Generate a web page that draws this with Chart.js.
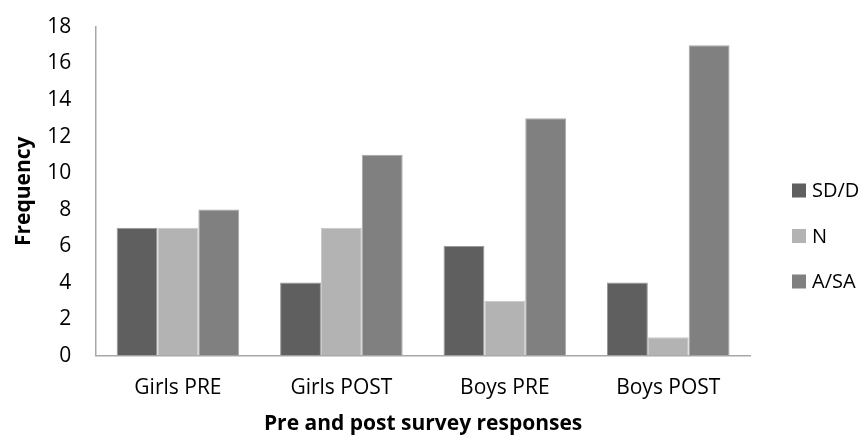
<!DOCTYPE html>
<html>
<head>
<meta charset="utf-8">
<script src="https://cdn.jsdelivr.net/npm/chart.js@4"></script>
<style>
  html, body { margin: 0; padding: 0; background: #fff; }
  #wrap { width: 865px; height: 437px; }
</style>
</head>
<body>
<div id="wrap"><canvas id="c" width="865" height="437"></canvas></div>
<script>
// Survey response groups
const categories = ["Girls PRE", "Girls POST", "Boys PRE", "Boys POST"];
// Response frequencies per group
const sdD = [7, 4, 6, 4];
const neutral = [7, 7, 3, 1];
const aSa = [8, 11, 13, 17];
const yTicks = [0, 2, 4, 6, 8, 10, 12, 14, 16, 18];

const FONT = "'Open Sans', sans-serif";

// Legend drawn in the right margin: square swatch + label per dataset
const sideLegend = {
  id: "sideLegend",
  afterDraw(chart) {
    const ctx = chart.ctx;
    const ds = chart.data.datasets;
    const step = 45.5;
    const midY = 236;
    const boxX = 792, box = 14, textX = 812;
    ctx.save();
    ctx.font = "20px " + FONT;
    ctx.textBaseline = "middle";
    ctx.textAlign = "left";
    ds.forEach((d, i) => {
      const y = midY + (i - (ds.length - 1) / 2) * step;
      ctx.fillStyle = d.backgroundColor;
      ctx.fillRect(boxX, y - box / 2, box, box);
      ctx.fillStyle = "#000";
      ctx.fillText(d.label, textX, y + 1);
    });
    ctx.restore();
  }
};

new Chart(document.getElementById("c"), {
  type: "bar",
  data: {
    labels: categories,
    datasets: [
      { label: "SD/D", data: sdD, backgroundColor: "#5f5f5f", borderColor: "#9a9a9a", borderWidth: 1 },
      { label: "N", data: neutral, backgroundColor: "#b3b3b3", borderColor: "#c8c8c8", borderWidth: 1 },
      { label: "A/SA", data: aSa, backgroundColor: "#808080", borderColor: "#a8a8a8", borderWidth: 1 }
    ]
  },
  options: {
    responsive: false,
    animation: false,
    layout: { padding: { top: 27, right: 115, left: 11, bottom: 0 } },
    datasets: { bar: { categoryPercentage: 0.75, barPercentage: 1.0 } },
    plugins: {
      legend: { display: false },
      tooltip: { enabled: false }
    },
    scales: {
      x: {
        grid: { display: false, drawTicks: false },
        border: { display: true, color: "#a8a8a8", width: 1.5 },
        ticks: { color: "#000", font: { family: FONT, size: 21 }, padding: 20 },
        title: { display: true, text: "Pre and post survey responses", color: "#000",
                 font: { family: FONT, size: 21, weight: "bold" }, padding: { top: -9, bottom: 0 } }
      },
      y: {
        min: 0, max: 18,
        afterBuildTicks: (axis) => { axis.ticks = yTicks.map(v => ({ value: v })); },
        // tick padding is horizontal only; keep it out of the top overflow
        afterFit: (axis) => { axis.paddingTop = 0; },
        grid: { display: false, drawTicks: false },
        border: { display: true, color: "#a8a8a8", width: 1.5 },
        ticks: { color: "#000", font: { family: FONT, size: 21 }, padding: 25 },
        title: { display: true, text: "Frequency", color: "#000",
                 font: { family: FONT, size: 21, weight: "bold" }, padding: { top: 0, bottom: -14 } }
      }
    }
  },
  plugins: [sideLegend]
});
</script>
</body>
</html>
